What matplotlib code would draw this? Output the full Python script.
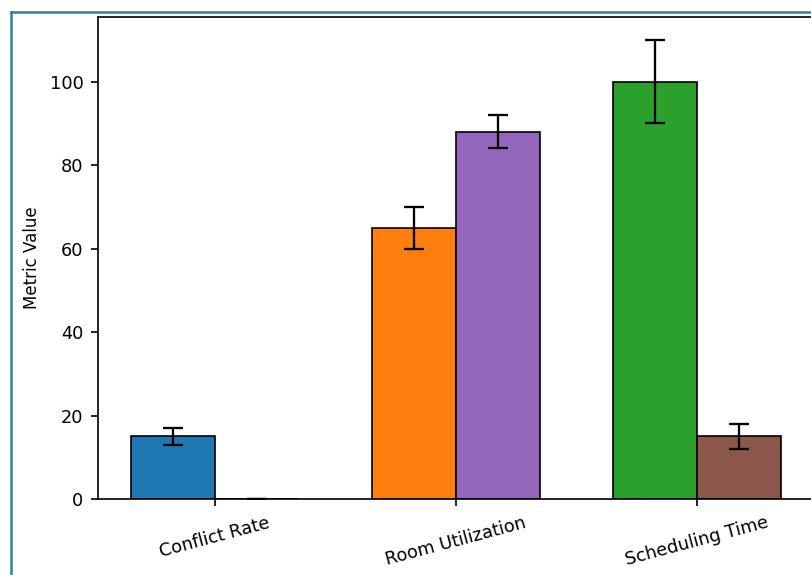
import matplotlib
matplotlib.use("Agg")
import matplotlib.pyplot as plt
import numpy as np
from matplotlib.lines import Line2D

# data
categories = ["Conflict Rate", "Room Utilization", "Scheduling Time"]
values_a = [15, 65, 100]
errors_a = [2, 5, 10]
values_b = [0, 88, 15]
errors_b = [0, 4, 3]
colors_a = ["tab:blue", "tab:orange", "tab:green"]
colors_b = ["tab:red", "tab:purple", "tab:brown"]

plt.rcParams["font.size"] = 8.5

dpi = 150
fig = plt.figure(figsize=(811 / dpi, 575 / dpi), dpi=dpi)
# right spine sits just past the edge, as in the cropped screenshot
ax = fig.add_axes([98 / 811, 76 / 575, 716 / 811, 482 / 575])

x = np.arange(len(categories))
width = 0.35
err_kw = {"elinewidth": 1.1, "capthick": 1.1}
ax.bar(x - width / 2, values_a, width, yerr=errors_a, color=colors_a,
       edgecolor="black", linewidth=0.8, capsize=5, error_kw=err_kw)
ax.bar(x + width / 2, values_b, width, yerr=errors_b, color=colors_b,
       edgecolor="black", linewidth=0.8, capsize=5, error_kw=err_kw)

ax.set_xticks(x)
ax.set_xticklabels(categories, rotation=15)
ax.set_ylabel("Metric Value", fontsize=8)

# blue frame of the screenshot
fig.add_artist(Line2D([11 / 811, 11 / 811], [0, 1 - 12 / 575],
                      color="#2f7fa3", lw=1.2, transform=fig.transFigure))
fig.add_artist(Line2D([11 / 811, 1], [1 - 12 / 575, 1 - 12 / 575],
                      color="#2f7fa3", lw=1.2, transform=fig.transFigure))

fig.savefig("out.png", dpi=dpi)
